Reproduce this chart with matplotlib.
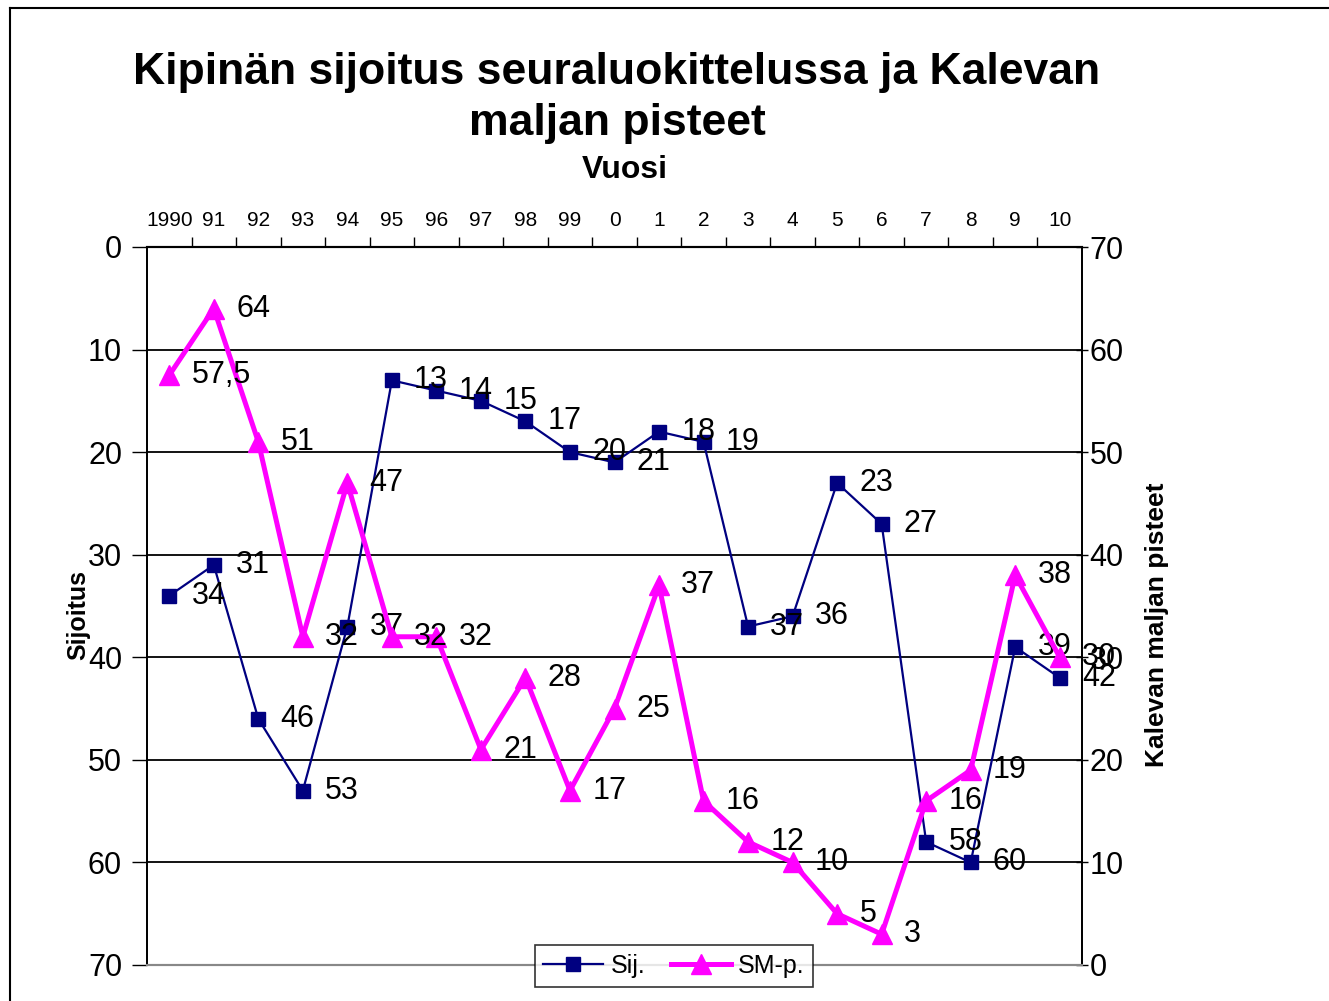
import matplotlib.pyplot as plt
from matplotlib.lines import Line2D

plt.rcParams['font.family'] = ['Liberation Sans', 'DejaVu Sans']

# Vuodet ja sarjat
vuodet = ["1990", "91", "92", "93", "94", "95", "96", "97", "98", "99",
          "0", "1", "2", "3", "4", "5", "6", "7", "8", "9", "10"]
sijoitus = [34, 31, 46, 53, 37, 13, 14, 15, 17, 20, 21, 18, 19, 37, 36, 23, 27, 58, 60, 39, 42]
sm_pisteet = [57.5, 64, 51, 32, 47, 32, 32, 21, 28, 17, 25, 37, 16, 12, 10, 5, 3, 16, 19, 38, 30]

fig = plt.figure(figsize=(13.29, 10.01), dpi=100)
ax = fig.add_axes([147 / 1329, 1 - 965 / 1001, (1082 - 147) / 1329, (965 - 247) / 1001])
ax2 = ax.twinx()

x = list(range(len(vuodet)))

# Sijoitus (vasen akseli, käänteinen)
ax.plot(x, sijoitus, color="#000080", linewidth=1.6, marker="s", markersize=10,
        label="Sij.", zorder=3)
for xi, v in zip(x, sijoitus):
    ax.annotate(str(v), (xi, v), xytext=(16, 0), textcoords="offset points",
                ha="left", va="center", fontsize=22, color="black", zorder=5)

# Kalevan maljan pisteet (oikea akseli)
ax2.plot(x, sm_pisteet, color="#FF00FF", linewidth=3.6, marker="^", markersize=14,
         label="SM-p.", zorder=3)
for xi, v in zip(x, sm_pisteet):
    txt = str(v).replace(".", ",") if v % 1 else str(int(v))
    ax2.annotate(txt, (xi, v), xytext=(16, 0), textcoords="offset points",
                 ha="left", va="center", fontsize=22, color="black", zorder=5)

ax.set_ylim(70, 0)
ax2.set_ylim(0, 70)
ax.set_xlim(-0.5, len(vuodet) - 0.5)
ax.set_yticks(range(0, 71, 10))
ax2.set_yticks(range(0, 71, 10))

# vaakasuorat apuviivat
for g in range(10, 70, 10):
    ax.axhline(g, color="black", linewidth=1.3, zorder=1)

# x-akseli ylhäällä
ax.xaxis.tick_top()
ax.set_xticks(x)
ax.set_xticklabels(vuodet, fontsize=15)
ax.set_xticks([i - 0.5 for i in range(1, len(vuodet))], minor=True)
ax.tick_params(axis="x", which="major", length=0, pad=12)
ax.tick_params(axis="x", which="minor", length=7, width=1, direction="out")

ax.tick_params(axis="y", labelsize=22, length=11, width=1, pad=7)
ax2.tick_params(axis="y", labelsize=22, length=9, width=1, direction="inout", pad=1)

for a in (ax, ax2):
    a.spines["bottom"].set_color("#888888")
    a.spines["bottom"].set_linewidth(1.5)
    a.spines["top"].set_linewidth(1.5)
    a.spines["left"].set_linewidth(1.3)
    a.spines["right"].set_linewidth(1.3)

fig.text(78 / 1329, 1 - 615 / 1001, "Sijoitus", rotation=90, fontsize=18,
         fontweight="bold", ha="center", va="center")
fig.text(1157 / 1329, 1 - 625 / 1001, "Kalevan maljan pisteet", rotation=90,
         fontsize=19, fontweight="bold", ha="center", va="center")

fig.text(617 / 1329, 1 - 98 / 1001, "Kipinän sijoitus seuraluokittelussa ja Kalevan\nmaljan pisteet",
         fontsize=32, fontweight="bold", ha="center", va="center", linespacing=1.3)
fig.text(625 / 1329, 1 - 170 / 1001, "Vuosi", fontsize=23, fontweight="bold",
         ha="center", va="center")

# Selite
handles = [
    Line2D([0], [0], color="#000080", linewidth=1.6, marker="s", markersize=10, label="Sij."),
    Line2D([0], [0], color="#FF00FF", linewidth=3.6, marker="^", markersize=14, label="SM-p."),
]
leg = fig.legend(handles=handles, loc="center", bbox_to_anchor=(674 / 1329, 1 - 966 / 1001),
                 ncol=2, fontsize=18, frameon=True, fancybox=False, handlelength=2.4,
                 columnspacing=1.0, handletextpad=0.3, borderpad=0.35)
leg.get_frame().set_edgecolor("black")
leg.get_frame().set_linewidth(1.2)

# kehys kuvan ympärillä
fig.add_artist(Line2D([10 / 1329, 1], [1 - 8 / 1001, 1 - 8 / 1001], color="black", linewidth=1.5))
fig.add_artist(Line2D([10 / 1329, 10 / 1329], [0, 1 - 8 / 1001], color="black", linewidth=1.5))

plt.savefig("out.png", dpi=100)
